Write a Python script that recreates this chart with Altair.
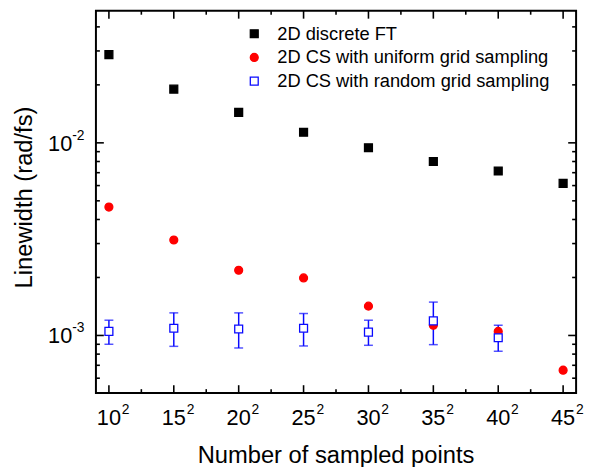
import altair as alt
import pandas as pd

# ---- data ----
n_points = [10, 15, 20, 25, 30, 35, 40, 45]
dft = [0.0287, 0.0190, 0.0144, 0.01135, 0.00943, 0.0080, 0.00714, 0.00616]
uniform = [0.00464, 0.00313, 0.00218, 0.00199, 0.00142, 0.00113, 0.00105, 0.00066]
n_random = [10, 15, 20, 25, 30, 35, 40]
random_cs = [0.00105, 0.00109, 0.00108, 0.00109, 0.00104, 0.00119, 0.000973]
random_hi = [0.00120, 0.00131, 0.00131, 0.00130, 0.00120, 0.00149, 0.00113]
random_lo = [0.000900, 0.000878, 0.000861, 0.000882, 0.000889, 0.000896, 0.000828]
series_names = ["2D discrete FT", "2D CS with uniform grid sampling",
                "2D CS with random grid sampling"]

x_major = [10, 15, 20, 25, 30, 35, 40, 45]
x_minor = [12.5, 17.5, 22.5, 27.5, 32.5, 37.5, 42.5]
x_label_base = ["10", "15", "20", "25", "30", "35", "40", "45"]
y_major = [1e-3, 1e-2]
y_label_exp = ["-3", "-2"]
y_minor = [6e-4, 7e-4, 8e-4, 9e-4, 2e-3, 3e-3, 4e-3, 5e-3, 6e-3, 7e-3, 8e-3, 9e-3,
           2e-2, 3e-2, 4e-2]
x_title = ["Number of sampled points"]
y_title = ["Linewidth (rad/fs)"]

W, H = 486, 387
FONT = "Liberation Sans"
BLUE = "#0a0aff"

rows = []
for xi, v in zip(n_points, dft):
    rows.append({"n": xi, "w": v, "s": series_names[0]})
for xi, v in zip(n_points, uniform):
    rows.append({"n": xi, "w": v, "s": series_names[1]})
for xi, v in zip(n_random, random_cs):
    rows.append({"n": xi, "w": v, "s": series_names[2]})
pts = pd.DataFrame(rows)
err = pd.DataFrame({"n": n_random, "lo": random_lo, "hi": random_hi})

xs = alt.Scale(domain=[9, 46], nice=False, zero=False)
ys = alt.Scale(type="log", domain=[5.02e-4, 4.85e-2], nice=False)

leg = alt.Legend(title=None, orient="none", legendX=151, legendY=14,
                 labelFontSize=18.5, labelFont=FONT, labelColor="black", symbolSize=64,
                 symbolStrokeWidth=1.3, rowPadding=5, labelOffset=14, padding=0,
                 labelLimit=400)

points = alt.Chart(pts).mark_point(size=64, strokeWidth=1.3, opacity=1).encode(
    x=alt.X("n:Q", scale=xs, axis=None),
    y=alt.Y("w:Q", scale=ys, axis=None),
    shape=alt.Shape("s:N", scale=alt.Scale(domain=series_names,
                                           range=["square", "circle", "square"]), legend=leg),
    fill=alt.Fill("s:N", scale=alt.Scale(domain=series_names,
                                         range=["black", "red", "white"]), legend=leg),
    stroke=alt.Stroke("s:N", scale=alt.Scale(domain=series_names,
                                             range=["black", "red", BLUE]), legend=leg),
)

ebar = alt.Chart(err).mark_rule(color=BLUE, strokeWidth=1.5).encode(
    x=alt.X("n:Q", scale=xs, axis=None),
    y=alt.Y("lo:Q", scale=ys, axis=None),
    y2="hi:Q",
)
cap_lo = alt.Chart(err).mark_tick(color=BLUE, orient="horizontal", size=9,
                                  thickness=1.5).encode(
    x=alt.X("n:Q", scale=xs, axis=None), y=alt.Y("lo:Q", scale=ys, axis=None))
cap_hi = alt.Chart(err).mark_tick(color=BLUE, orient="horizontal", size=9,
                                  thickness=1.5).encode(
    x=alt.X("n:Q", scale=xs, axis=None), y=alt.Y("hi:Q", scale=ys, axis=None))

xmaj = pd.DataFrame({"t": x_major, "base": x_label_base})
xmin = pd.DataFrame({"t": x_minor})
ymaj = pd.DataFrame({"t": y_major, "exp": y_label_exp})
ymin = pd.DataFrame({"t": y_minor})


def xticks(df, y0, y1):
    return alt.Chart(df).mark_rule(color="black", strokeWidth=1.6).encode(
        x=alt.X("t:Q", scale=xs, axis=None), y=alt.value(y0), y2=alt.value(y1))


def yticks(df, x0, x1):
    return alt.Chart(df).mark_rule(color="black", strokeWidth=1.6).encode(
        y=alt.Y("t:Q", scale=ys, axis=None), x=alt.value(x0), x2=alt.value(x1))


ticks = [
    xticks(xmaj, H, H - 8), xticks(xmin, H, H - 4),
    xticks(xmaj, 0, 8), xticks(xmin, 0, 4),
    yticks(ymaj, 0, 8), yticks(ymin, 0, 4),
    yticks(ymaj, W, W - 8), yticks(ymin, W, W - 4),
]

xlab = alt.Chart(xmaj).mark_text(align="center", baseline="alphabetic", fontSize=22,
                                 font=FONT, color="black").encode(
    x=alt.X("t:Q", scale=xs, axis=None), y=alt.value(H + 32), text="base:N")
xexp = alt.Chart(xmaj).mark_text(align="left", baseline="alphabetic", fontSize=14,
                                 font=FONT, color="black", dx=13).encode(
    x=alt.X("t:Q", scale=xs, axis=None), y=alt.value(H + 21), text=alt.value("2"))
ylab = alt.Chart(ymaj).mark_text(align="right", baseline="alphabetic", fontSize=22,
                                 font=FONT, color="black", dy=8).encode(
    y=alt.Y("t:Q", scale=ys, axis=None), x=alt.value(-24), text=alt.value("10"))
yexp = alt.Chart(ymaj).mark_text(align="left", baseline="alphabetic", fontSize=14,
                                 font=FONT, color="black", dy=-3).encode(
    y=alt.Y("t:Q", scale=ys, axis=None), x=alt.value(-24), text="exp:N")

xtitle = alt.Chart(pd.DataFrame({"t": x_title})).mark_text(
    align="center", baseline="alphabetic", fontSize=24, font=FONT, color="black"
).encode(x=alt.value(W / 2), y=alt.value(H + 71), text="t:N")
ytitle = alt.Chart(pd.DataFrame({"t": y_title})).mark_text(
    align="center", baseline="alphabetic", fontSize=24, font=FONT, color="black",
    angle=270
).encode(x=alt.value(-65), y=alt.value(189), text="t:N")

chart = alt.layer(
    *ticks, ebar, cap_lo, cap_hi, points, xlab, xexp, ylab, yexp, xtitle, ytitle
).properties(
    width=W, height=H,
    autosize=alt.AutoSizeParams(type="none"),
    padding={"left": 89, "top": 0, "right": 8, "bottom": 72},
).configure_view(stroke="black", strokeWidth=2)

chart.save("out.html", embed_options={"renderer": "svg", "actions": False})
